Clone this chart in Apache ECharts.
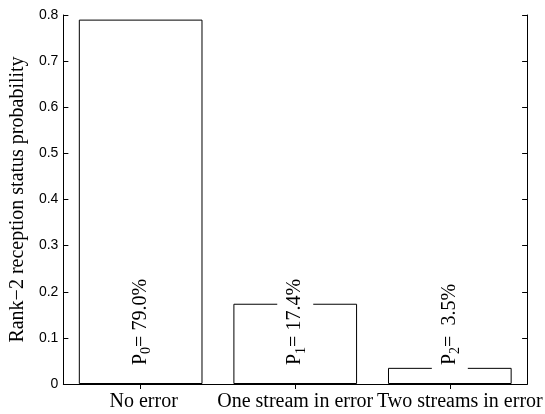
<!DOCTYPE html>
<html><head><meta charset="utf-8">
<script src="https://cdn.jsdelivr.net/npm/echarts@6/dist/echarts.min.js"></script>
<style>html,body{margin:0;padding:0;background:#fff}#c{width:545px;height:414px}</style>
</head><body><div id="c"></div>
<script>
const categories = ['No error', 'One stream in error', 'Two streams in error'];
const probabilities = [0.790, 0.174, 0.035];
const subscripts = ['0', '1', '2'];
const percentTexts = ['= 79.0%', '= 17.4%', '=  3.5%'];
const yTicks = [0, 0.1, 0.2, 0.3, 0.4, 0.5, 0.6, 0.7, 0.8];

const chart = echarts.init(document.getElementById('c'), null, {renderer: 'canvas'});
const serif = '"Liberation Serif", "Times New Roman", serif';
const sans = '"Liberation Sans", Arial, Helvetica, sans-serif';
const axisLine = {show: true, lineStyle: {color: '#000', width: 1}};
chart.setOption({
  animation: false,
  backgroundColor: '#fff',
  grid: {left: 60, right: 17, top: 15, bottom: 30, containLabel: false},
  xAxis: [{
    type: 'category', data: categories, position: 'bottom',
    axisLine: axisLine,
    axisTick: {show: true, inside: true, length: 5, alignWithLabel: true, lineStyle: {color: '#000'}},
    axisLabel: {color: '#000', fontFamily: serif, fontSize: 20, margin: 8, interval: 0, hideOverlap: false,
      formatter: (v, i) => i === 2 ? '{r|' + v + '}' : (i === 0 ? '{l|' + v + '}' : v),
      rich: {
        r: {fontFamily: serif, fontSize: 20, color: '#000', padding: [0, 0, 0, 20]},
        l: {fontFamily: serif, fontSize: 20, color: '#000', padding: [0, 0, 0, 6]}
      }},
    splitLine: {show: false}
  }, {
    type: 'category', data: categories, position: 'top',
    axisLine: axisLine,
    axisTick: {show: true, inside: true, length: 5, alignWithLabel: true, lineStyle: {color: '#000'}},
    axisLabel: {show: false}, splitLine: {show: false}
  }],
  yAxis: [{
    type: 'value', min: 0, max: 0.8, interval: 0.1, position: 'left',
    name: 'Rank\u22122 reception status probability', nameLocation: 'middle', nameGap: 31,
    nameTextStyle: {color: '#000', fontFamily: serif, fontSize: 20},
    axisLine: axisLine,
    axisTick: {show: true, inside: true, length: 5, lineStyle: {color: '#000'}},
    axisLabel: {color: '#000', fontFamily: sans, fontSize: 14, margin: 5,
      formatter: v => { const t = yTicks.find(x => Math.abs(x - v) < 1e-9); return t === 0 ? '0' : String(+t.toFixed(1)); }},
    splitLine: {show: false}
  }, {
    type: 'value', min: 0, max: 0.8, interval: 0.1, position: 'right',
    axisLine: axisLine,
    axisTick: {show: true, inside: true, length: 5, lineStyle: {color: '#000'}},
    axisLabel: {show: false}, splitLine: {show: false}
  }],
  series: [{
    type: 'bar', data: probabilities, barWidth: '80%',
    itemStyle: {color: '#fff', borderColor: '#000', borderWidth: 1},
    z: 2,
    label: {
      show: true, position: 'insideBottom', distance: 14, rotate: 90, align: 'left', verticalAlign: 'middle',
      backgroundColor: '#fff',
      formatter: p => '{p|P}{b|' + subscripts[p.dataIndex] + '}{a|' + percentTexts[p.dataIndex] + '}',
      rich: {
        p: {fontFamily: serif, fontSize: 20, color: '#000', lineHeight: 36, verticalAlign: 'middle', backgroundColor: '#fff', padding: [0, 0, 0, 5]},
        a: {fontFamily: serif, fontSize: 20, color: '#000', lineHeight: 36, verticalAlign: 'middle', backgroundColor: '#fff', padding: [0, 3, 0, 0]},
        b: {fontFamily: serif, fontSize: 14, color: '#000', lineHeight: 36, verticalAlign: 'middle', backgroundColor: '#fff', padding: [12, 0, 0, 0]}
      }
    }
  }]
});
</script></body></html>
